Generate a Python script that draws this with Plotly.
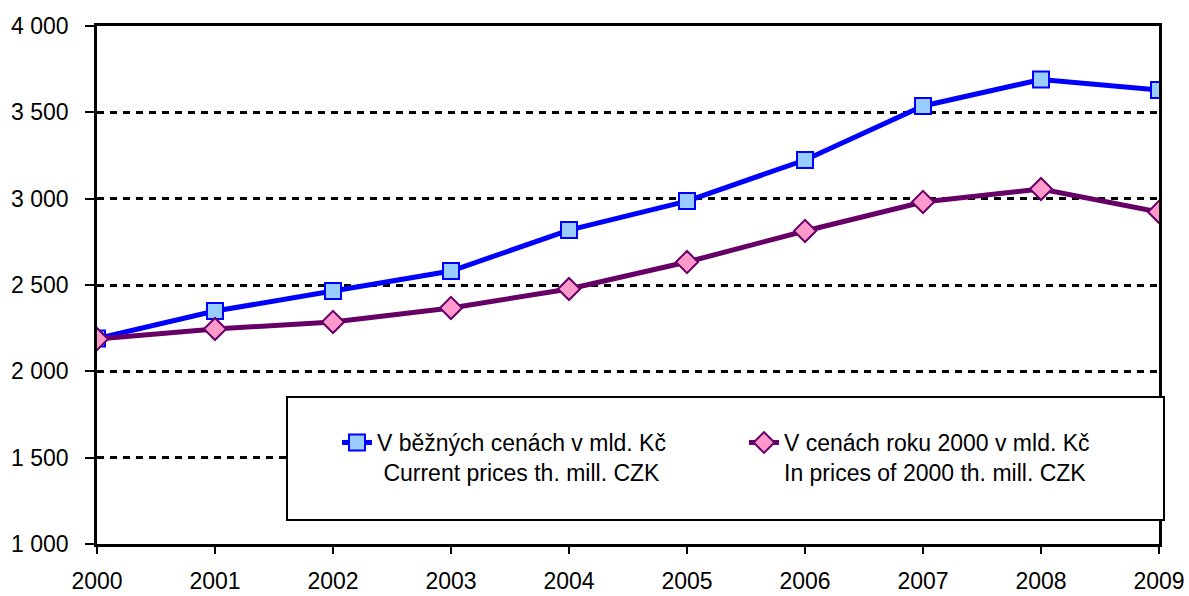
import plotly.graph_objects as go

years = [2000, 2001, 2002, 2003, 2004, 2005, 2006, 2007, 2008, 2009]
current_prices = [2190, 2349, 2465, 2581, 2818, 2986, 3224, 3537, 3690, 3629]
prices_2000 = [2187, 2245, 2286, 2367, 2477, 2633, 2813, 2981, 3056, 2923]
y_tickvals = [1000, 1500, 2000, 2500, 3000, 3500, 4000]
y_ticktext = ["1 000", "1 500", "2 000", "2 500", "3 000", "3 500", "4 000"]
name_current = "V běžných cenách v mld. Kč<br>\u00a0Current prices th. mill. CZK"
name_2000 = "V cenách roku 2000 v mld. Kč<br>In prices of 2000 th. mill. CZK"

FONT = "Liberation Sans, Arial, sans-serif"

fig = go.Figure()
fig.add_trace(go.Scatter(
    x=years, y=current_prices, mode="lines+markers", name=name_current,
    line=dict(color="#0000FF", width=5),
    marker=dict(symbol="square", size=16, color="#99CCFF",
                line=dict(color="#0000FF", width=2)),
))
fig.add_trace(go.Scatter(
    x=years, y=prices_2000, mode="lines+markers", name=name_2000,
    line=dict(color="#660066", width=5),
    marker=dict(symbol="diamond", size=17, color="#FF99CC",
                line=dict(color="#660066", width=2)),
))

# legend frame
fig.add_shape(type="rect", xref="paper", yref="paper",
              x0=(287 - 97) / 1062, x1=(1164 - 97) / 1062,
              y0=(544 - 520) / 518, y1=(544 - 397) / 518,
              line=dict(color="black", width=2), fillcolor="white", layer="above")

fig.update_layout(
    width=1189, height=596,
    margin=dict(l=97, r=30, t=26, b=52, autoexpand=False),
    paper_bgcolor="white", plot_bgcolor="white",
    font=dict(family=FONT, size=23, color="black"),
    showlegend=True,
    legend=dict(orientation="h", x=(337 - 97) / 1062, y=(544 - 421) / 518,
                xanchor="left", yanchor="top", valign="top",
                bgcolor="rgba(0,0,0,0)", borderwidth=0,
                entrywidth=362, entrywidthmode="pixels",
                font=dict(family=FONT, size=23, color="black")),
    xaxis=dict(range=[2000, 2009], tickvals=years, ticktext=[str(y) for y in years],
               showline=True, linecolor="black", linewidth=2.5, mirror=True,
               ticks="outside", ticklen=7, tickwidth=2, tickcolor="black",
               ticklabelstandoff=8, showgrid=False, zeroline=False, automargin=False),
    yaxis=dict(range=[1000, 4000], tickvals=y_tickvals, ticktext=y_ticktext,
               showline=True, linecolor="black", linewidth=2.5, mirror=True,
               ticks="outside", ticklen=9, tickwidth=2, tickcolor="black",
               ticklabelstandoff=12,
               showgrid=True, gridcolor="black", gridwidth=2.5, griddash="7px,6px",
               zeroline=False, automargin=False),
)

fig.write_html(
    "out.html",
    config={"displayModeBar": False},
    post_script="document.body.style.margin='0px';document.body.style.overflow='hidden';",
)
